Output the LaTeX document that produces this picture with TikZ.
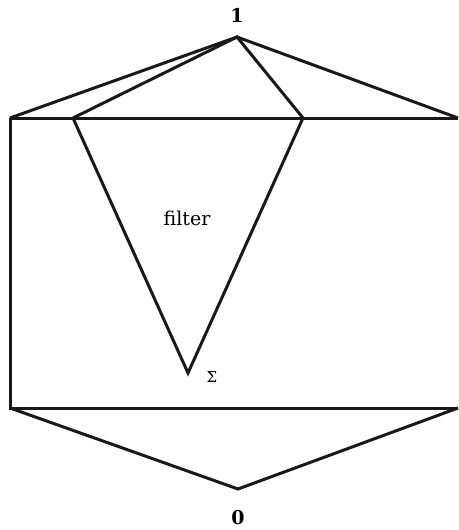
\documentclass[tikz,border=0pt]{standalone}
\usepackage{fontspec}
\setmainfont{DejaVu Serif}
\begin{document}
\begin{tikzpicture}[x=1pt,y=-1pt,
  edge/.style={line width=3pt, line join=miter, color=black!90},
  lab/.style={font=\fontsize{19}{23}\selectfont, inner sep=0pt},
  blab/.style={font=\fontsize{19}{23}\selectfont\bfseries, inner sep=0pt}]
\useasboundingbox (0,0) rectangle (458,530);
\coordinate (top) at (237,37);
\coordinate (L) at (10,118);
\coordinate (A) at (73,118);
\coordinate (B) at (303,118);
\coordinate (R) at (458,118);
\coordinate (S) at (188,373);
\coordinate (BL) at (10,408);
\coordinate (BR) at (458,408);
\coordinate (bot) at (238,489);
\node[blab] (one) at (237,15) {1};
\node[blab] (zero) at (238,518) {0};
\node[lab] (filter) at (187,218) {filter};
\node[lab, font=\fontsize{15}{18}\selectfont] (sigma) at (212,377) {Σ};
\draw[edge] (L) -- (top) -- (R);
\draw[edge] (A) -- (top) -- (B);
\draw[edge] (L) -- (R);
\draw[edge] (A) -- (S) -- (B);
\draw[edge] (L) -- (BL) -- (BR);
\draw[edge] (BL) -- (bot) -- (BR);
\end{tikzpicture}
\end{document}
